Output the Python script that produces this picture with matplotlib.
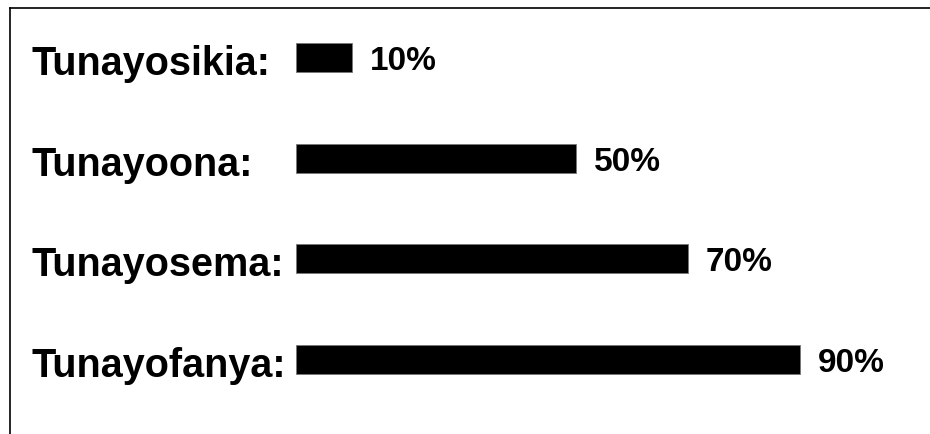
import matplotlib
matplotlib.use("Agg")
import matplotlib.pyplot as plt
from matplotlib.lines import Line2D
import matplotlib.transforms as mtransforms

categories = ["Tunayosikia:", "Tunayoona:", "Tunayosema:", "Tunayofanya:"]
values = [10, 50, 70, 90]
value_labels = ["10%", "50%", "70%", "90%"]

W, H, DPI = 930, 435, 100
fig = plt.figure(figsize=(W / DPI, H / DPI), dpi=DPI)
fig.patch.set_facecolor("white")

# axes: bars start at pixel 296
left_px = 296
px_per_unit = 5.6
ax = fig.add_axes([left_px / W, 0, 1 - left_px / W, 1])
ax.set_xlim(0, (W - left_px) / px_per_unit)
row_px = 100.4
first_px = 58.9
ax.set_ylim((H - first_px) / row_px, -first_px / row_px)
ax.axis("off")

ypos = list(range(len(categories)))
ax.barh(ypos, values, height=0.29, color="black", edgecolor="#777777", linewidth=0.6)

font = "Liberation Sans"
blend = mtransforms.blended_transform_factory(fig.transFigure, ax.transData)
for i, c in enumerate(categories):
    fig.text(31 / W, i + 0.165, c, transform=blend, ha="left", va="baseline",
             fontsize=28.5, fontweight="bold", family=font, color="black")

for i, (v, lab) in enumerate(zip(values, value_labels)):
    ax.annotate(lab, xy=(v, i), xytext=(13, -8.3), textcoords="offset points",
                ha="left", va="baseline", fontsize=24, fontweight="bold",
                family=font, color="black")

# frame lines (left and top)
fig.add_artist(Line2D([10 / W, 10 / W], [0, 1 - 9 / H], transform=fig.transFigure,
                      color="black", linewidth=1.2))
fig.add_artist(Line2D([10 / W, 1], [1 - 9 / H, 1 - 9 / H], transform=fig.transFigure,
                      color="black", linewidth=1.2))

fig.savefig("out.png", dpi=DPI, facecolor="white")
